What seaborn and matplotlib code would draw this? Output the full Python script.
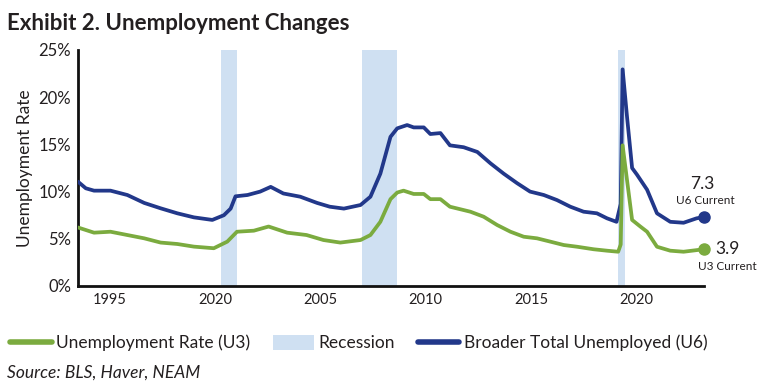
import matplotlib
matplotlib.use('Agg')
import matplotlib.pyplot as plt
import seaborn as sns
import pandas as pd
from matplotlib.lines import Line2D
from matplotlib.patches import Patch

# -------------------------------------------------------
# Data (decimal years)
# -------------------------------------------------------
u6_years = [1994.36, 1994.73, 1995.12, 1995.9, 1996.7, 1997.5, 1998.28, 1999.07, 1999.86,
            2000.73, 2001.28, 2001.6, 2001.83, 2002.4, 2003.0, 2003.5, 2004.1, 2004.9,
            2005.7, 2006.3, 2006.97, 2007.76, 2008.23, 2008.7, 2009.18, 2009.5, 2009.97,
            2010.28, 2010.76, 2011.07, 2011.55, 2012.0, 2012.65, 2013.3, 2013.92, 2014.55,
            2015.18, 2015.8, 2016.45, 2017.08, 2017.71, 2018.34, 2018.97, 2019.45, 2019.9,
            2020.1, 2020.19, 2020.4, 2020.64, 2020.87, 2021.35, 2021.82, 2022.45, 2023.08,
            2023.7, 2024.05]
u6_values = [11.05, 10.35, 10.1, 10.1, 9.64, 8.8, 8.23, 7.7, 7.27,
             7.0, 7.5, 8.2, 9.5, 9.64, 10.0, 10.5, 9.8, 9.46,
             8.8, 8.4, 8.2, 8.58, 9.46, 11.9, 15.8, 16.7, 17.05,
             16.8, 16.8, 16.1, 16.2, 14.9, 14.7, 14.2, 13.0, 11.9,
             10.9, 10.0, 9.64, 9.1, 8.4, 7.87, 7.7, 7.17, 6.8,
             8.7, 22.95, 17.9, 12.5, 11.8, 10.2, 7.7, 6.8, 6.7,
             7.17, 7.3]

u3_years = [1994.36, 1995.12, 1995.9, 1996.7, 1997.5, 1998.28, 1999.07, 1999.86, 2000.8,
            2001.44, 2001.9, 2002.7, 2003.4, 2004.28, 2005.2, 2006.0, 2006.8, 2007.76,
            2008.23, 2008.7, 2009.18, 2009.5, 2009.8, 2010.28, 2010.76, 2011.07, 2011.55,
            2012.0, 2012.97, 2013.6, 2014.24, 2014.87, 2015.5, 2016.13, 2016.76, 2017.4,
            2018.03, 2018.82, 2019.45, 2019.98, 2020.1, 2020.19, 2020.4, 2020.64, 2021.03,
            2021.35, 2021.82, 2022.45, 2023.08, 2023.7, 2024.05]
u3_values = [6.2, 5.65, 5.75, 5.4, 5.05, 4.6, 4.45, 4.17, 4.0,
             4.7, 5.75, 5.86, 6.3, 5.65, 5.4, 4.87, 4.6, 4.87,
             5.4, 6.8, 9.2, 9.9, 10.1, 9.75, 9.75, 9.2, 9.2,
             8.4, 7.87, 7.34, 6.46, 5.75, 5.22, 5.05, 4.7, 4.34,
             4.16, 3.89, 3.74, 3.63, 4.4, 14.9, 11.2, 7.0, 6.3,
             5.75, 4.16, 3.74, 3.63, 3.8, 3.9]

recession_starts = [2001.14, 2007.83, 2019.96]
recession_ends = [2001.89, 2009.48, 2020.31]

tick_labels = ["1995", "2020", "2005", "2010", "2015", "2020"]  # as printed on the original
tick_years = [1995, 2000, 2005, 2010, 2015, 2020]

u6_current = "7.3"
u3_current = "3.9"

GREEN = "#7bab3f"
NAVY = "#22388a"
BAND = "#cfe0f2"
TEXT = "#231f20"

sns.set_style("white")
plt.rcParams['font.family'] = ['Lato', 'DejaVu Sans']

u6 = pd.DataFrame({"year": u6_years, "rate": u6_values})
u3 = pd.DataFrame({"year": u3_years, "rate": u3_values})

fig = plt.figure(figsize=(7.66, 3.89), dpi=100)
ax = fig.add_axes([78 / 766, 1 - 286 / 389, 626 / 766, 236 / 389])

# Recession bands
for s, e in zip(recession_starts, recession_ends):
    ax.axvspan(s, e, color=BAND, lw=0, zorder=0)

sns.lineplot(data=u6, x="year", y="rate", color=NAVY, lw=2.7, ax=ax, zorder=3)
sns.lineplot(data=u3, x="year", y="rate", color=GREEN, lw=2.7, ax=ax, zorder=3)

# End-point markers
ax.plot(u6_years[-1], u6_values[-1], 'o', color=NAVY, ms=8, clip_on=False, zorder=4)
ax.plot(u3_years[-1], u3_values[-1], 'o', color=GREEN, ms=8, clip_on=False, zorder=4)

ax.set_xlim(u6_years[0], u6_years[-1])
ax.set_ylim(0, 25)
ax.set_yticks([0, 5, 10, 15, 20, 25])
ax.set_yticklabels([f"{v}%" for v in [0, 5, 10, 15, 20, 25]], fontsize=12, color=TEXT)
ax.set_xticks([y + 0.85 for y in tick_years])
ax.set_xticklabels(tick_labels, fontsize=10.5, color=TEXT)
ax.tick_params(axis='y', direction='in', length=12, width=1.8, color='black', pad=5)
ax.tick_params(axis='x', length=0, pad=5)
ax.set_xlabel("")
ax.set_ylabel("Unemployment Rate", fontsize=12.5, color=TEXT)
ax.yaxis.set_label_coords(-0.072, 0.5)

for side in ['top', 'right']:
    ax.spines[side].set_visible(False)
for side in ['left', 'bottom']:
    ax.spines[side].set_linewidth(2)
    ax.spines[side].set_color('#111111')

# Current value annotations
fig.text(702 / 766, 1 - 184 / 389, u6_current, fontsize=12.5, ha='center', va='center', color=TEXT)
fig.text(705 / 766, 1 - 200 / 389, "U6 Current", fontsize=8.5, ha='center', va='center', color=TEXT)
fig.text(727 / 766, 1 - 249 / 389, u3_current, fontsize=12.5, ha='center', va='center', color=TEXT)
fig.text(727 / 766, 1 - 267 / 389, "U3 Current", fontsize=8.5, ha='center', va='center', color=TEXT)

# Title and source
fig.text(7 / 766, 1 - 23 / 389, "Exhibit 2. Unemployment Changes", fontsize=16, fontweight='bold',
         ha='left', va='center', color=TEXT)
fig.text(7 / 766, 1 - 373 / 389, "Source: BLS, Haver, NEAM", fontsize=12.5, style='italic',
         ha='left', va='center', color=TEXT)

# Legend
handles = [
    Line2D([0], [0], color=GREEN, lw=4, solid_capstyle='round'),
    Patch(facecolor=BAND, edgecolor='none'),
    Line2D([0], [0], color=NAVY, lw=4, solid_capstyle='round'),
]
labels = ["Unemployment Rate (U3)", "Recession", "Broader Total Unemployed (U6)"]
fig.legend(handles, labels, loc='center left', bbox_to_anchor=(10 / 766, 1 - 343 / 389),
           ncol=3, frameon=False, fontsize=12.5, handlelength=2.4, handleheight=1.0,
           handletextpad=0.25, columnspacing=1.3, borderpad=0, borderaxespad=0,
           labelcolor=TEXT)

plt.savefig("out.png", dpi=100)
plt.close()
